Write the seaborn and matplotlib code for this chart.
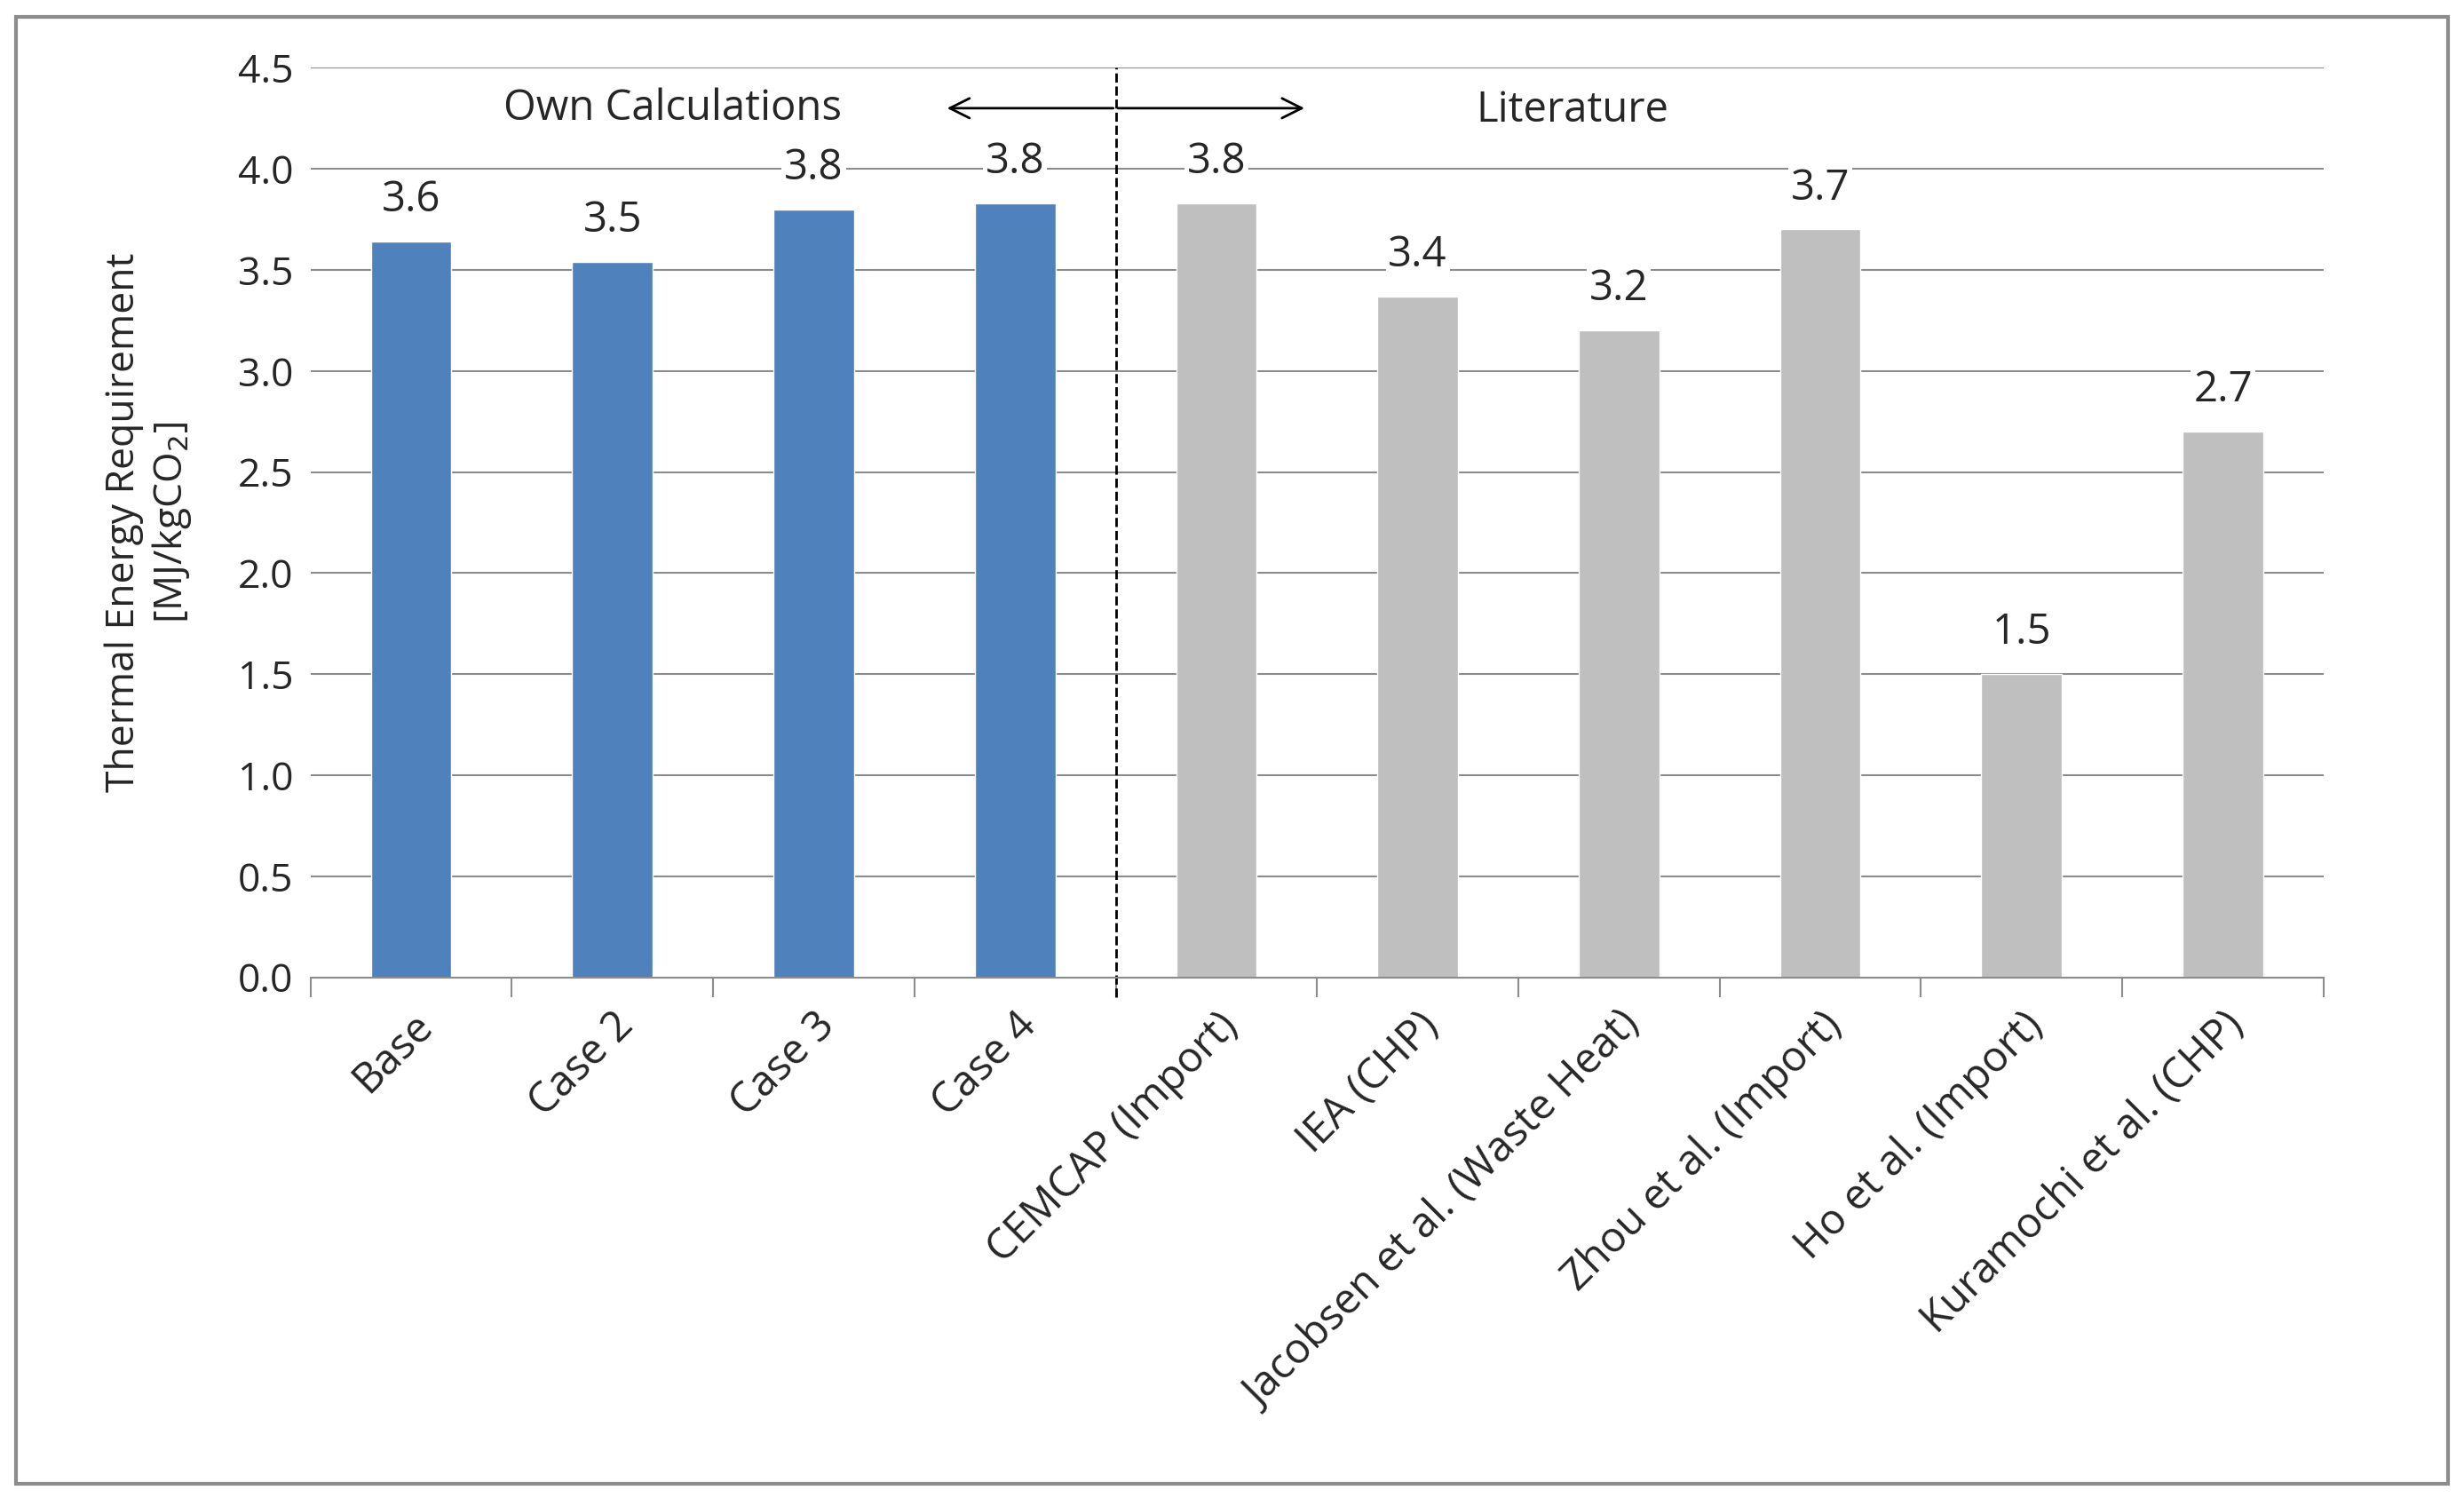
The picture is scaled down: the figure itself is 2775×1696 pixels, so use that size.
import matplotlib
matplotlib.use("Agg")
import matplotlib.pyplot as plt
import seaborn as sns
import pandas as pd
from matplotlib.patches import Rectangle

categories = ["Base", "Case 2", "Case 3", "Case 4", "CEMCAP (Import)", "IEA (CHP)",
              "Jacobsen et al. (Waste Heat)", "Zhou et al. (Import)", "Ho et al. (Import)",
              "Kuramochi et al. (CHP)"]
values = [3.64, 3.54, 3.80, 3.83, 3.83, 3.37, 3.20, 3.70, 1.50, 2.70]
groups = ["Own"] * 4 + ["Lit"] * 6
palette = {"Own": "#4F81BD", "Lit": "#BFBFBF"}

sns.set_style("white")
plt.rcParams['font.family'] = ['Open Sans', 'DejaVu Sans']

df = pd.DataFrame({"cat": categories, "val": values, "grp": groups})
fig = plt.figure(figsize=(27.75, 16.96), dpi=100)
ax = fig.add_axes([0.126, 0.351, 0.817, 0.604])
sns.barplot(data=df, x="cat", y="val", hue="grp", palette=palette, dodge=False,
            width=0.4, legend=False, ax=ax, saturation=1)

ax.set_ylim(0, 4.5)
ax.set_xlim(-0.5, 9.5)
ax.set_yticks([i * 0.5 for i in range(10)])
ax.set_yticklabels([f"{i*0.5:.1f}" for i in range(10)], fontsize=32)
ax.yaxis.grid(True, color="#8C8C8C", lw=1.5)
ax.set_axisbelow(True)
for s in ["top", "right", "left"]:
    ax.spines[s].set_visible(False)
ax.spines["bottom"].set_color("#8C8C8C")
ax.spines["bottom"].set_linewidth(1.5)
ax.set_xticks([i for i in range(10)])
ax.set_xticks([i - 0.5 for i in range(11)], minor=True)
ax.tick_params(axis="x", which="minor", bottom=True, length=16, color="#8C8C8C", width=1.5)
ax.tick_params(axis="x", which="major", bottom=False, length=0, pad=22)
ax.set_xticklabels(categories, rotation=45, ha="right", rotation_mode="anchor", fontsize=34)
ax.tick_params(axis="y", length=0, pad=14)
ax.set_xlabel("")
ax.set_ylabel("Thermal Energy Requirement\n[MJ/kgCO$_2$]", fontsize=32, labelpad=36)

for i, v in enumerate(values):
    ax.text(i, v + 0.1, f"{v:.1f}", ha="center", va="bottom", fontsize=34,
            bbox=dict(facecolor="white", edgecolor="none", pad=2))

ax.plot([3.5, 3.5], [-0.1, 4.5], ls="--", color="black", lw=2, clip_on=False)
ax.annotate("", xy=(2.65, 4.3), xytext=(3.5, 4.3),
            arrowprops=dict(arrowstyle="->", lw=2, color="black", mutation_scale=40))
ax.annotate("", xy=(4.45, 4.3), xytext=(3.5, 4.3),
            arrowprops=dict(arrowstyle="->", lw=2, color="black", mutation_scale=40))
ax.text(1.3, 4.3, "Own Calculations", ha="center", va="center", fontsize=34)
ax.text(5.77, 4.29, "Literature", ha="center", va="center", fontsize=34)

fig.patches.append(Rectangle((0.0065, 0.015), 0.987, 0.974, transform=fig.transFigure,
                             fill=False, edgecolor="#8C8C8C", lw=3))
fig.savefig("out.png", dpi=100)
